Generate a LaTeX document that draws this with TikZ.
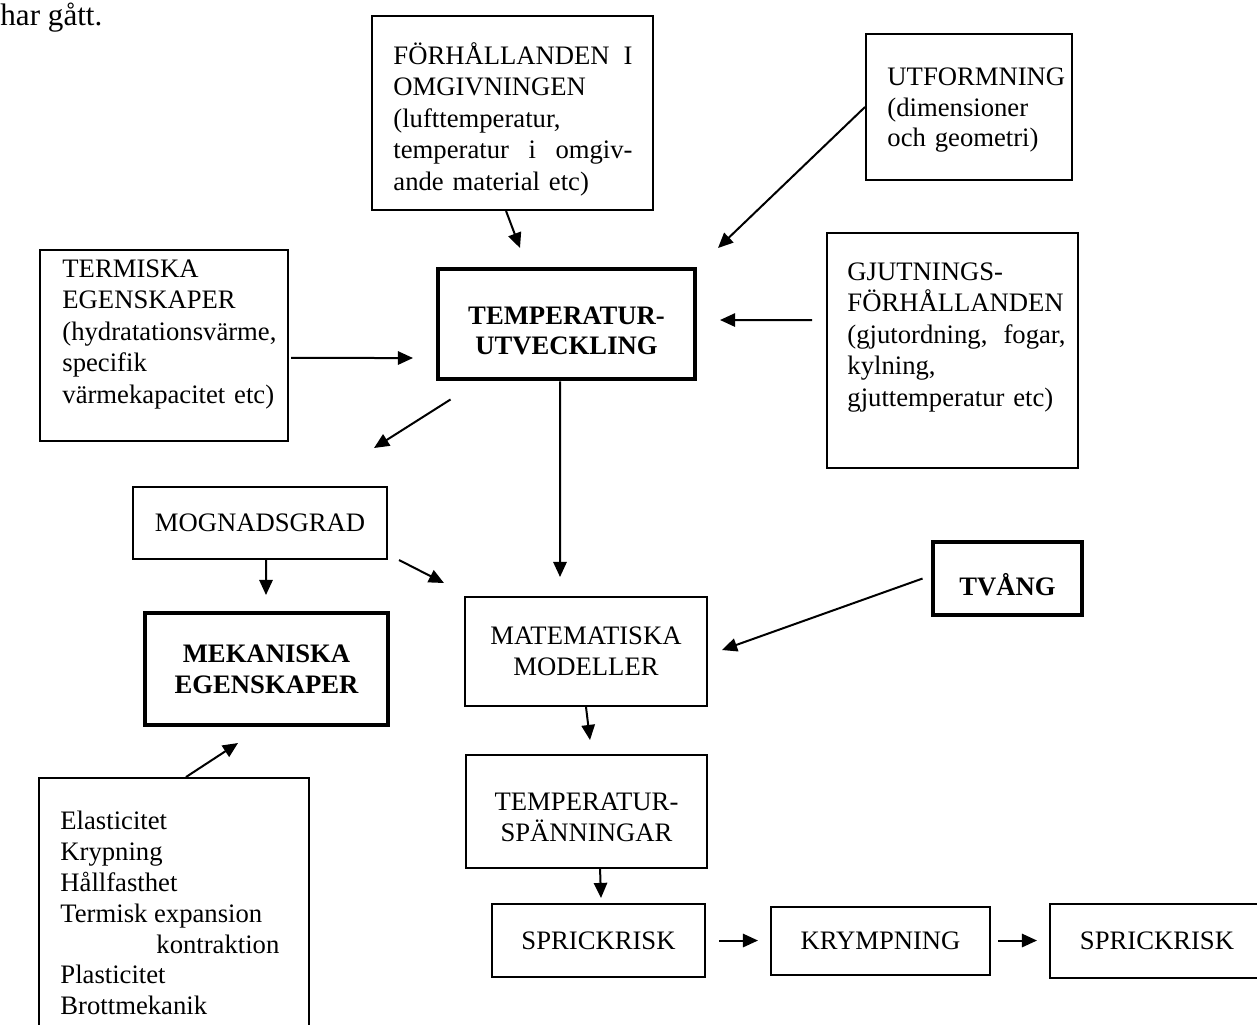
\documentclass[tikz,border=0pt]{standalone}
\usepackage{fontspec}
\setmainfont{Liberation Serif}
\usetikzlibrary{arrows.meta}
\begin{document}
\begin{tikzpicture}[x=0.45pt,y=-0.45pt,
  font=\fontsize{12}{13.8}\selectfont,
  box/.style={draw, line width=0.9pt, inner sep=0pt, align=center},
  boxb/.style={draw, line width=2.2pt, inner sep=0pt, align=center},
  btxt/.style={inner sep=0pt, align=center, font=\fontsize{12}{13.8}\selectfont\bfseries},
  ctxt/.style={inner sep=0pt, align=center},
  txt/.style={inner sep=0pt, anchor=north west, align=left},
  arr/.style={line width=0.9pt, -{Triangle[length=6.8pt,width=6pt]}}]
\useasboundingbox (0,0) rectangle (1257,1024);
\clip (0,0) rectangle (1257,1024);

\node[anchor=base west, inner sep=0pt, font=\fontsize{14}{16}\selectfont] (hargatt) at (0,25) {har gått.};

% boxes
\node[box, minimum width=126.45pt, minimum height=87.3pt] (for) at (512.5,113) {};
\node[txt, text width=107.6pt, font=\fontsize{12}{14.2}\selectfont] (fortxt) at (393,42)
  {FÖRHÅLLANDEN\hfill I\\OMGIVNINGEN\\(lufttemperatur,\\temperatur\hfill i\hfill omgiv-\\ande material etc)};

\node[box, minimum width=92.7pt, minimum height=65.7pt] (utf) at (969,107) {};
\node[txt, text width=81pt, font=\fontsize{12}{13.9}\selectfont] (utftxt) at (887,67)
  {UTFORMNING\\(dimensioner\\och geometri)};

\node[box, minimum width=111.6pt, minimum height=85.95pt] (term) at (164,345.5) {};
\node[txt, text width=103.5pt, font=\fontsize{12}{14.2}\selectfont] (termtxt) at (62,259)
  {TERMISKA\\EGENSKAPER\\(hydratationsvärme,\\specifik\\värmekapacitet etc)};

\node[boxb, minimum width=115.65pt, minimum height=49.5pt] (temp) at (566.5,324) {};
\node[btxt] (temptxt) at (566.5,331) {TEMPERATUR-\\UTVECKLING};

\node[box, minimum width=112.95pt, minimum height=105.75pt] (gjut) at (952.5,350.5) {};
\node[txt, text width=98.1pt, font=\fontsize{12}{14.2}\selectfont] (gjuttxt) at (847,262)
  {GJUTNINGS-\\FÖRHÅLLANDEN\\(gjutordning,\hfill fogar,\\kylning,\\gjuttemperatur etc)};

\node[box, minimum width=114.3pt, minimum height=32.4pt] (mogn) at (260,523) {MOGNADSGRAD};
\node[boxb, minimum width=109.35pt, minimum height=50.4pt, font=\fontsize{12}{13.8}\selectfont\bfseries] (mek) at (266.5,669) {MEKANISKA\\EGENSKAPER};
\node[box, minimum width=108.9pt, minimum height=49.05pt] (mat) at (586,651.5) {MATEMATISKA\\MODELLER};
\node[boxb, minimum width=67.05pt, minimum height=32.85pt] (tvang) at (1007.5,578.5) {};
\node[btxt] (tvangtxt) at (1007.5,585) {TVÅNG};
\node[box, minimum width=108.45pt, minimum height=50.85pt] (spann) at (586.5,811.5) {};
\node[ctxt] (spanntxt) at (586.5,817) {TEMPERATUR-\\SPÄNNINGAR};
\node[box, minimum width=95.85pt, minimum height=32.85pt] (spr1) at (598.5,940.5) {SPRICKRISK};
\node[box, minimum width=98.55pt, minimum height=30.6pt] (kry) at (880.5,940.5) {KRYMPNING};
\node[box, minimum width=96.3pt, minimum height=33.3pt] (spr2) at (1157,941) {SPRICKRISK};

\node[box, minimum width=121.5pt, minimum height=120.15pt] (elas) at (174,911.5) {};
\node[txt, font=\fontsize{12}{13.86}\selectfont] (elastxt) at (60,811)
  {Elasticitet\\Krypning\\Hållfasthet\\Termisk expansion\\\hspace*{43.2pt}kontraktion\\Plasticitet\\Brottmekanik};

% free arrow ends
\coordinate (t1) at (520,248);
\coordinate (t2) at (718,248);
\coordinate (t3) at (720,320);
\coordinate (t4) at (413,358);
\coordinate (t5) at (374,448);
\coordinate (t6) at (560,577);
\coordinate (t7) at (266,595);
\coordinate (t8) at (444,583);
\coordinate (t9) at (722,650);
\coordinate (t10) at (590,740);
\coordinate (t11) at (601,898);
\coordinate (t12) at (758,940.5);
\coordinate (t13) at (1037,940.5);
\coordinate (t14) at (238,743);

% connectors
\draw[arr] ([xshift=-2.9pt]for.south) -- (t1);
\draw[arr] (utf.west) -- (t2);
\draw[arr] ([xshift=-6.3pt,yshift=13.7pt]gjut.west) -- (t3);
\draw[arr] ([xshift=0.9pt,yshift=-5.6pt]term.east) -- (t4);
\draw[arr] ([xshift=6.75pt,yshift=-8.1pt]temp.south west) -- (t5);
\draw[arr] ([xshift=-2.9pt]temp.south) -- (t6);
\draw[arr] ([xshift=2.7pt]mogn.south) -- (t7);
\draw[arr] ([xshift=4.95pt]mogn.south east) -- (t8);
\draw[arr] ([xshift=-3.6pt]tvang.west) -- (t9);
\draw[arr] (mat.south) -- (t10);
\draw[arr] ([xshift=6.1pt]spann.south) -- (t11);
\draw[arr] ([xshift=5.85pt]spr1.east) -- (t12);
\draw[arr] ([xshift=3.15pt]kry.east) -- (t13);
\draw[arr] ([xshift=66.6pt]elas.north west) -- (t14);
\end{tikzpicture}
\end{document}
